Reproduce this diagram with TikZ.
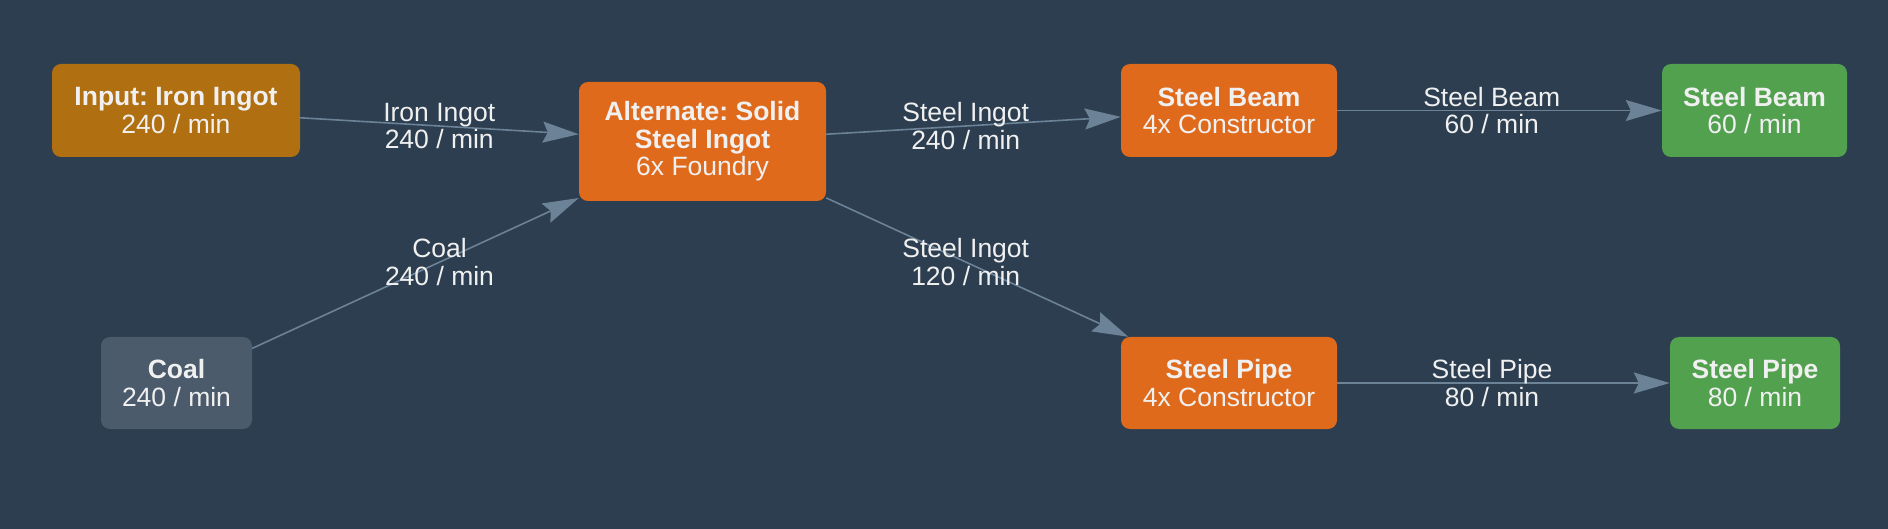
\documentclass[tikz,border=0pt]{standalone}
\usepackage{fontspec}
\setmainfont{Liberation Sans}
\usetikzlibrary{arrows.meta,calc}
\definecolor{bg}{HTML}{2C3E50}
\definecolor{ironc}{HTML}{B06F10}
\definecolor{coalc}{HTML}{4B5B6C}
\definecolor{procc}{HTML}{E06A1C}
\definecolor{outc}{HTML}{52A14F}
\definecolor{edgec}{HTML}{6C8297}
\definecolor{txt}{HTML}{F0F0F0}
\frenchspacing
\begin{document}
\begin{tikzpicture}[x=1pt,y=-1pt,
  box/.style={rounded corners=9pt, align=center, text=txt, inner sep=0pt,
    font=\fontsize{26.5}{27.5}\selectfont},
  lbl/.style={align=center, text=txt, inner sep=0pt,
    font=\fontsize{26.5}{27.5}\selectfont},
  flow/.style={draw=edgec, line width=1.6pt,
    -{Stealth[length=36pt,width=21pt,inset=5pt]}}]
\fill[bg] (0,0) rectangle (1888,529);
\useasboundingbox (0,0) rectangle (1888,529);

\node[box, fill=ironc, minimum width=248pt, minimum height=93pt] (iron) at (176,110.5)
  {\textbf{Input: Iron Ingot}\\240 / min};
\node[box, fill=coalc, minimum width=151pt, minimum height=92pt] (coal) at (176.5,383)
  {\textbf{Coal}\\240 / min};
\node[box, fill=procc, minimum width=247pt, minimum height=119pt] (found) at (702.5,141.5)
  {\textbf{Alternate: Solid}\\\textbf{Steel Ingot}\\6x Foundry};
\node[box, fill=procc, minimum width=216pt, minimum height=93pt] (beam) at (1229,110.5)
  {\textbf{Steel Beam}\\4x Constructor};
\node[box, fill=procc, minimum width=216pt, minimum height=92pt] (pipe) at (1229,383)
  {\textbf{Steel Pipe}\\4x Constructor};
\node[box, fill=outc, minimum width=185pt, minimum height=93pt] (beamout) at (1754.5,110.5)
  {\textbf{Steel Beam}\\60 / min};
\node[box, fill=outc, minimum width=170pt, minimum height=92pt] (pipeout) at (1755,383)
  {\textbf{Steel Pipe}\\80 / min};

\draw[flow] (iron) -- (found);
\draw[flow] (coal) -- (found);
\draw[flow] (found) -- (beam);
\draw[flow] (found) -- (pipe);
\draw[flow] (beam) -- (beamout);
\draw[flow] (pipe) -- (pipeout);

\node[lbl] (l1) at ($(iron)!0.5!(found)$) {Iron Ingot\\240 / min};
\node[lbl] (l2) at ($(coal)!0.5!(found)$) {Coal\\240 / min};
\node[lbl] (l3) at ($(found)!0.5!(beam)$) {Steel Ingot\\240 / min};
\node[lbl] (l4) at ($(found)!0.5!(pipe)$) {Steel Ingot\\120 / min};
\node[lbl] (l5) at ($(beam)!0.5!(beamout)$) {Steel Beam\\60 / min};
\node[lbl] (l6) at ($(pipe)!0.5!(pipeout)$) {Steel Pipe\\80 / min};
\end{tikzpicture}
\end{document}
